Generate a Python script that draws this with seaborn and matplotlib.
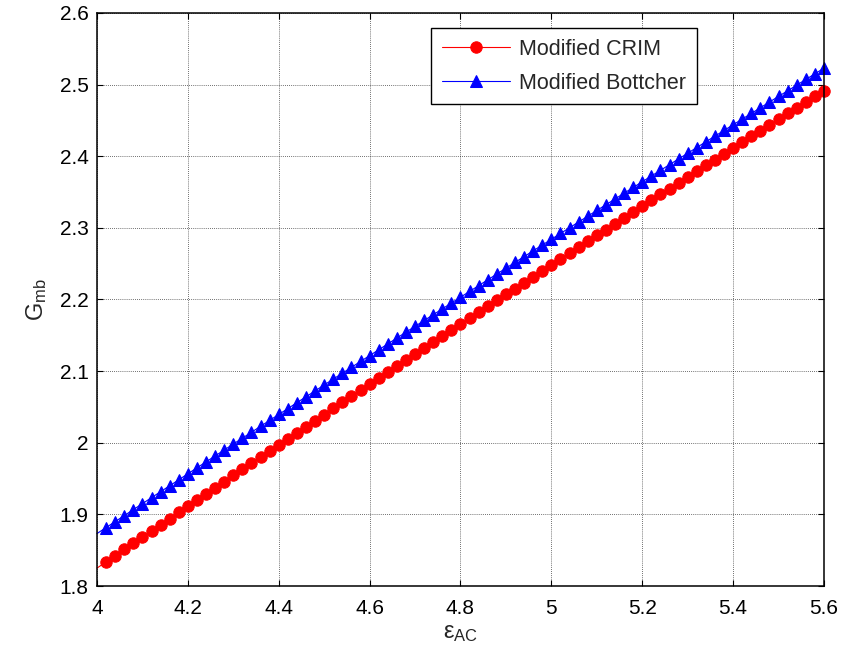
import matplotlib
matplotlib.use("Agg")
import matplotlib.pyplot as plt
import seaborn as sns
import pandas as pd
from matplotlib.ticker import FixedLocator, FixedFormatter

# ---- data ----
eps_ac = [4.00, 4.02, 4.04, 4.06, 4.08, 4.10, 4.12, 4.14, 4.16, 4.18,
          4.20, 4.22, 4.24, 4.26, 4.28, 4.30, 4.32, 4.34, 4.36, 4.38,
          4.40, 4.42, 4.44, 4.46, 4.48, 4.50, 4.52, 4.54, 4.56, 4.58,
          4.60, 4.62, 4.64, 4.66, 4.68, 4.70, 4.72, 4.74, 4.76, 4.78,
          4.80, 4.82, 4.84, 4.86, 4.88, 4.90, 4.92, 4.94, 4.96, 4.98,
          5.00, 5.02, 5.04, 5.06, 5.08, 5.10, 5.12, 5.14, 5.16, 5.18,
          5.20, 5.22, 5.24, 5.26, 5.28, 5.30, 5.32, 5.34, 5.36, 5.38,
          5.40, 5.42, 5.44, 5.46, 5.48, 5.50, 5.52, 5.54, 5.56, 5.58,
          5.60]

crim = [1.8250, 1.8337, 1.8424, 1.8510, 1.8597, 1.8683, 1.8770, 1.8856, 1.8942, 1.9028,
        1.9114, 1.9200, 1.9286, 1.9372, 1.9457, 1.9543, 1.9629, 1.9714, 1.9799, 1.9884,
        1.9970, 2.0055, 2.0140, 2.0225, 2.0309, 2.0394, 2.0479, 2.0563, 2.0648, 2.0732,
        2.0816, 2.0900, 2.0984, 2.1068, 2.1152, 2.1236, 2.1320, 2.1404, 2.1487, 2.1571,
        2.1654, 2.1737, 2.1820, 2.1904, 2.1987, 2.2070, 2.2152, 2.2235, 2.2318, 2.2401,
        2.2483, 2.2565, 2.2648, 2.2730, 2.2812, 2.2894, 2.2976, 2.3058, 2.3140, 2.3222,
        2.3303, 2.3385, 2.3466, 2.3548, 2.3629, 2.3710, 2.3791, 2.3872, 2.3953, 2.4034,
        2.4115, 2.4195, 2.4276, 2.4356, 2.4437, 2.4517, 2.4597, 2.4677, 2.4757, 2.4837,
        2.4917]

bottcher = [1.8732, 1.8816, 1.8899, 1.8983, 1.9067, 1.9150, 1.9234, 1.9317, 1.9400, 1.9483,
            1.9567, 1.9650, 1.9733, 1.9816, 1.9899, 1.9982, 2.0064, 2.0147, 2.0230, 2.0312,
            2.0395, 2.0477, 2.0560, 2.0642, 2.0724, 2.0807, 2.0889, 2.0971, 2.1053, 2.1135,
            2.1217, 2.1298, 2.1380, 2.1462, 2.1544, 2.1625, 2.1707, 2.1788, 2.1869, 2.1951,
            2.2032, 2.2113, 2.2194, 2.2275, 2.2356, 2.2437, 2.2518, 2.2599, 2.2680, 2.2760,
            2.2841, 2.2922, 2.3002, 2.3082, 2.3163, 2.3243, 2.3323, 2.3403, 2.3484, 2.3564,
            2.3644, 2.3724, 2.3803, 2.3883, 2.3963, 2.4042, 2.4122, 2.4202, 2.4281, 2.4360,
            2.4440, 2.4519, 2.4598, 2.4677, 2.4757, 2.4836, 2.4914, 2.4993, 2.5072, 2.5151,
            2.5230]

series_labels = ["Modified CRIM", "Modified Bottcher"]
x_ticks = [4.0, 4.2, 4.4, 4.6, 4.8, 5.0, 5.2, 5.4, 5.6]
x_tick_labels = ["4", "4.2", "4.4", "4.6", "4.8", "5", "5.2", "5.4", "5.6"]
y_ticks = [1.8, 1.9, 2.0, 2.1, 2.2, 2.3, 2.4, 2.5, 2.6]
y_tick_labels = ["1.8", "1.9", "2", "2.1", "2.2", "2.3", "2.4", "2.5", "2.6"]

# ---- style ----
sns.set_theme(style="white")
plt.rcParams["font.family"] = ["Liberation Sans", "DejaVu Sans"]
plt.rcParams["mathtext.fontset"] = "custom"
plt.rcParams["mathtext.rm"] = "Liberation Sans"
plt.rcParams["mathtext.it"] = "Liberation Sans:italic"
plt.rcParams["mathtext.bf"] = "Liberation Sans:bold"

fig = plt.figure(figsize=(8.43, 6.63), dpi=100)
ax = fig.add_axes([97 / 843, 1 - 586 / 663, 727 / 843, 573 / 663])

df = pd.DataFrame({"eps": eps_ac, "crim": crim, "bott": bottcher})
marks = list(range(1, len(eps_ac)))

sns.lineplot(data=df, x="eps", y="crim", ax=ax, color="#ff0000", linewidth=0.8,
             marker="o", markersize=8.2, markeredgecolor="#ff0000",
             markerfacecolor="#ff0000", markevery=marks, clip_on=False,
             label=series_labels[0])
sns.lineplot(data=df, x="eps", y="bott", ax=ax, color="#0000ff", linewidth=0.8,
             marker="^", markersize=8.0, markeredgecolor="#0000ff",
             markerfacecolor="#0000ff", markevery=marks, clip_on=False,
             label=series_labels[1])

ax.set_xlim(4.0, 5.6)
ax.set_ylim(1.8, 2.6)
ax.xaxis.set_major_locator(FixedLocator(x_ticks))
ax.xaxis.set_major_formatter(FixedFormatter(x_tick_labels))
ax.yaxis.set_major_locator(FixedLocator(y_ticks))
ax.yaxis.set_major_formatter(FixedFormatter(y_tick_labels))

ax.grid(True, color="#000000", linestyle=(0, (1, 1.5)), linewidth=0.6, alpha=0.75)
ax.set_axisbelow(True)
for s in ax.spines.values():
    s.set_visible(True)
    s.set_color("black")
    s.set_linewidth(1.1)

ax.tick_params(axis="both", which="major", direction="in", length=4, width=0.8,
               colors="black", labelsize=15, top=True, right=True,
               bottom=True, left=True)
ax.tick_params(axis="x", pad=9)
ax.tick_params(axis="y", pad=6)

ax.set_xlabel("ε$_{\\mathrm{AC}}$", fontsize=17, labelpad=3)
ax.set_ylabel("G$_{\\mathrm{mb}}$", fontsize=17, labelpad=8)

leg = ax.legend(loc="upper right", bbox_to_anchor=(0.825, 0.974),
                borderaxespad=0, fontsize=15.5, frameon=True, fancybox=False,
                handlelength=3.2, handletextpad=0.4, labelspacing=0.6,
                borderpad=0.5)
leg.get_frame().set_edgecolor("black")
leg.get_frame().set_linewidth(1.0)
leg.get_frame().set_alpha(1.0)

fig.savefig("out.png", dpi=100)
